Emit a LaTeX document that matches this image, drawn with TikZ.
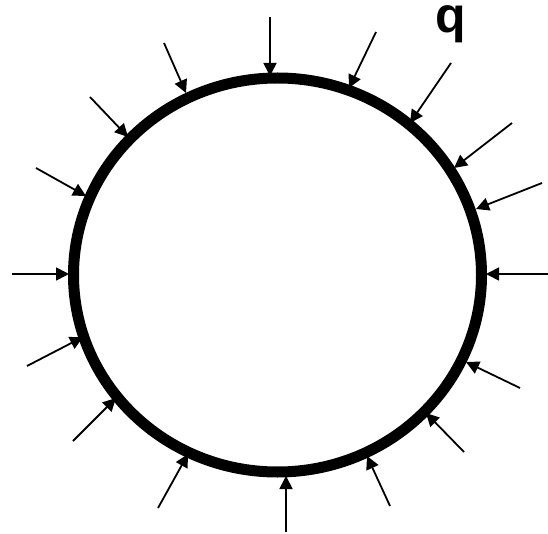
\documentclass[tikz,border=0pt]{standalone}
\usepackage{fontspec}
\setmainfont{Liberation Sans}
\usetikzlibrary{arrows.meta}
\begin{document}
\begin{tikzpicture}[x=1pt,y=-1pt,
  ring/.style={line width=11pt, draw=black},
  load/.style={line width=1.8pt, -{Triangle[length=13pt,width=13pt]}, shorten >=0pt},
  lbl/.style={font=\fontsize{50}{50}\selectfont\bfseries, inner sep=0pt}]
\useasboundingbox (0,0) rectangle (548,534);
\draw[ring] (277.5,275) ellipse [x radius=204, y radius=197];
% arrow start / tip coordinates
\coordinate (s1) at (270,17);   \coordinate (t1) at (270,76);
\coordinate (s2) at (376,32);   \coordinate (t2) at (349,88);
\coordinate (s3) at (451,63);   \coordinate (t3) at (410,123);
\coordinate (s4) at (512,123);  \coordinate (t4) at (454,168);
\coordinate (s5) at (542,183);  \coordinate (t5) at (476,209);
\coordinate (s6) at (548,274);  \coordinate (t6) at (486,274);
\coordinate (s7) at (520,388);  \coordinate (t7) at (466,362);
\coordinate (s8) at (464,452);  \coordinate (t8) at (426,413);
\coordinate (s9) at (390,506);  \coordinate (t9) at (367,456);
\coordinate (s10) at (286,532); \coordinate (t10) at (286,476);
\coordinate (s11) at (158,508); \coordinate (t11) at (188,454);
\coordinate (s12) at (73,441);  \coordinate (t12) at (116,398);
\coordinate (s13) at (27,366);  \coordinate (t13) at (83,337);
\coordinate (s14) at (12,274);  \coordinate (t14) at (69,274);
\coordinate (s15) at (36,168);  \coordinate (t15) at (86,196);
\coordinate (s16) at (90,97);   \coordinate (t16) at (128,137);
\coordinate (s17) at (164,43);  \coordinate (t17) at (186,93);
\foreach \i in {1,...,17} {\draw[load] (s\i) -- (t\i);}
\node[lbl] (q) at (450.5,24.5) {q};
\end{tikzpicture}
\end{document}
